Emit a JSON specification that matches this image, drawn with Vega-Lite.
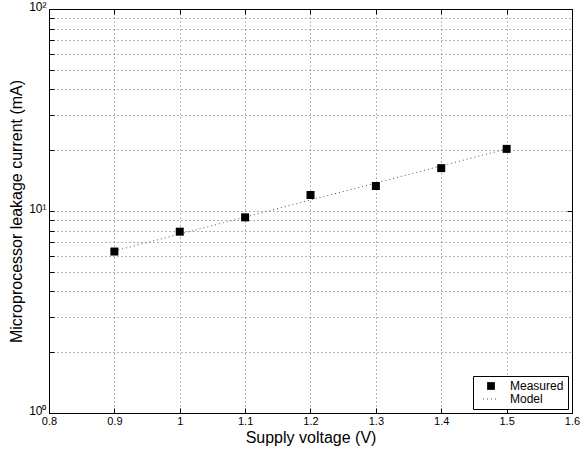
{
  "$schema": "https://vega.github.io/schema/vega-lite/v6.json",
  "width": 523,
  "height": 404,
  "autosize": "none",
  "padding": {"left": 49, "top": 9, "right": 8, "bottom": 45},
  "background": "white",
  "config": {
    "font": "Liberation Sans",
    "view": {"stroke": "black", "strokeWidth": 1},
    "axis": {
      "labelFont": "Liberation Sans",
      "titleFont": "Liberation Sans",
      "labelFontSize": 11,
      "labelColor": "black",
      "titleColor": "black",
      "titleFontWeight": "normal",
      "titleFontSize": 16,
      "domainColor": "black",
      "tickColor": "black",
      "tickSize": -5,
      "labelFlush": false,
      "labelOverlap": false,
      "gridColor": "#444",
      "gridDash": [1, 3],
      "gridOpacity": 0.8
    },
    "legend": {
      "orient": "bottom-right",
      "offset": 4,
      "strokeColor": "black",
      "fillColor": "white",
      "padding": 4,
      "labelFont": "Liberation Sans",
      "labelFontSize": 12,
      "labelColor": "black",
      "labelOffset": 13,
      "symbolOffset": 8,
      "rowPadding": 1,
      "symbolSize": 49,
      "symbolStrokeWidth": 1
    }
  },
  "datasets": {
    "measured": [
      {"v": 0.9, "i": 6.3, "series": "Measured"},
      {"v": 1.0, "i": 7.9, "series": "Measured"},
      {"v": 1.1, "i": 9.3, "series": "Measured"},
      {"v": 1.2, "i": 12.0, "series": "Measured"},
      {"v": 1.3, "i": 13.3, "series": "Measured"},
      {"v": 1.4, "i": 16.3, "series": "Measured"},
      {"v": 1.5, "i": 20.3, "series": "Measured"}
    ],
    "model": [
      {"v": 0.9, "i": 6.34, "series": "Model"},
      {"v": 1.0, "i": 7.69, "series": "Model"},
      {"v": 1.1, "i": 9.33, "series": "Model"},
      {"v": 1.2, "i": 11.33, "series": "Model"},
      {"v": 1.3, "i": 13.76, "series": "Model"},
      {"v": 1.4, "i": 16.71, "series": "Model"},
      {"v": 1.5, "i": 20.28, "series": "Model"}
    ]
  },
  "layer": [
    {
      "data": {"name": "model"},
      "mark": {"type": "line", "strokeWidth": 1},
      "encoding": {
        "x": {"field": "v", "type": "quantitative",
          "scale": {"domain": [0.8, 1.6], "nice": false, "zero": false},
          "axis": {"orient": "top", "labels": false, "title": null, "grid": false,
            "values": [0.8, 0.9, 1.0, 1.1, 1.2, 1.3, 1.4, 1.5, 1.6]}},
        "y": {"field": "i", "type": "quantitative",
          "scale": {"type": "log", "domain": [1, 100], "nice": false},
          "axis": {"orient": "right", "labels": false, "title": null, "grid": false,
            "values": [1, 10, 100]}},
        "color": {"field": "series", "type": "nominal",
          "scale": {"domain": ["Measured", "Model"], "range": ["black", "#555"]},
          "legend": {"title": null}},
        "strokeDash": {"field": "series", "type": "nominal",
          "scale": {"domain": ["Measured", "Model"], "range": [[1, 0], [1, 3]]},
          "legend": {"title": null}}
      }
    },
    {
      "data": {"name": "measured"},
      "mark": {"type": "point", "filled": true, "size": 64, "opacity": 1},
      "encoding": {
        "x": {"field": "v", "type": "quantitative",
          "scale": {"domain": [0.8, 1.6], "nice": false, "zero": false},
          "axis": {"orient": "bottom", "title": "Supply voltage (V)", "format": "~g", "grid": true,
            "values": [0.8, 0.9, 1.0, 1.1, 1.2, 1.3, 1.4, 1.5, 1.6],
            "labelPadding": 7, "titlePadding": 3}},
        "y": {"field": "i", "type": "quantitative",
          "scale": {"type": "log", "domain": [1, 100], "nice": false},
          "axis": {"orient": "left", "title": "Microprocessor leakage current (mA)", "grid": true,
            "values": [1, 2, 3, 4, 5, 6, 7, 8, 9, 10, 20, 30, 40, 50, 60, 70, 80, 90, 100],
            "labelExpr": "datum.value == 1 ? '10⁰' : datum.value == 10 ? '10¹' : datum.value == 100 ? '10²' : ''",
            "labelFontSize": 12, "labelOffset": -3,
            "labelPadding": 8, "titlePadding": 4}},
        "color": {"field": "series", "type": "nominal",
          "scale": {"domain": ["Measured", "Model"], "range": ["black", "#555"]},
          "legend": {"title": null}},
        "shape": {"field": "series", "type": "nominal",
          "scale": {"domain": ["Measured", "Model"], "range": ["square", "M-2.3,0H2.3"]},
          "legend": {"title": null}}
      }
    }
  ],
  "resolve": {"axis": {"x": "independent", "y": "independent"}}
}
